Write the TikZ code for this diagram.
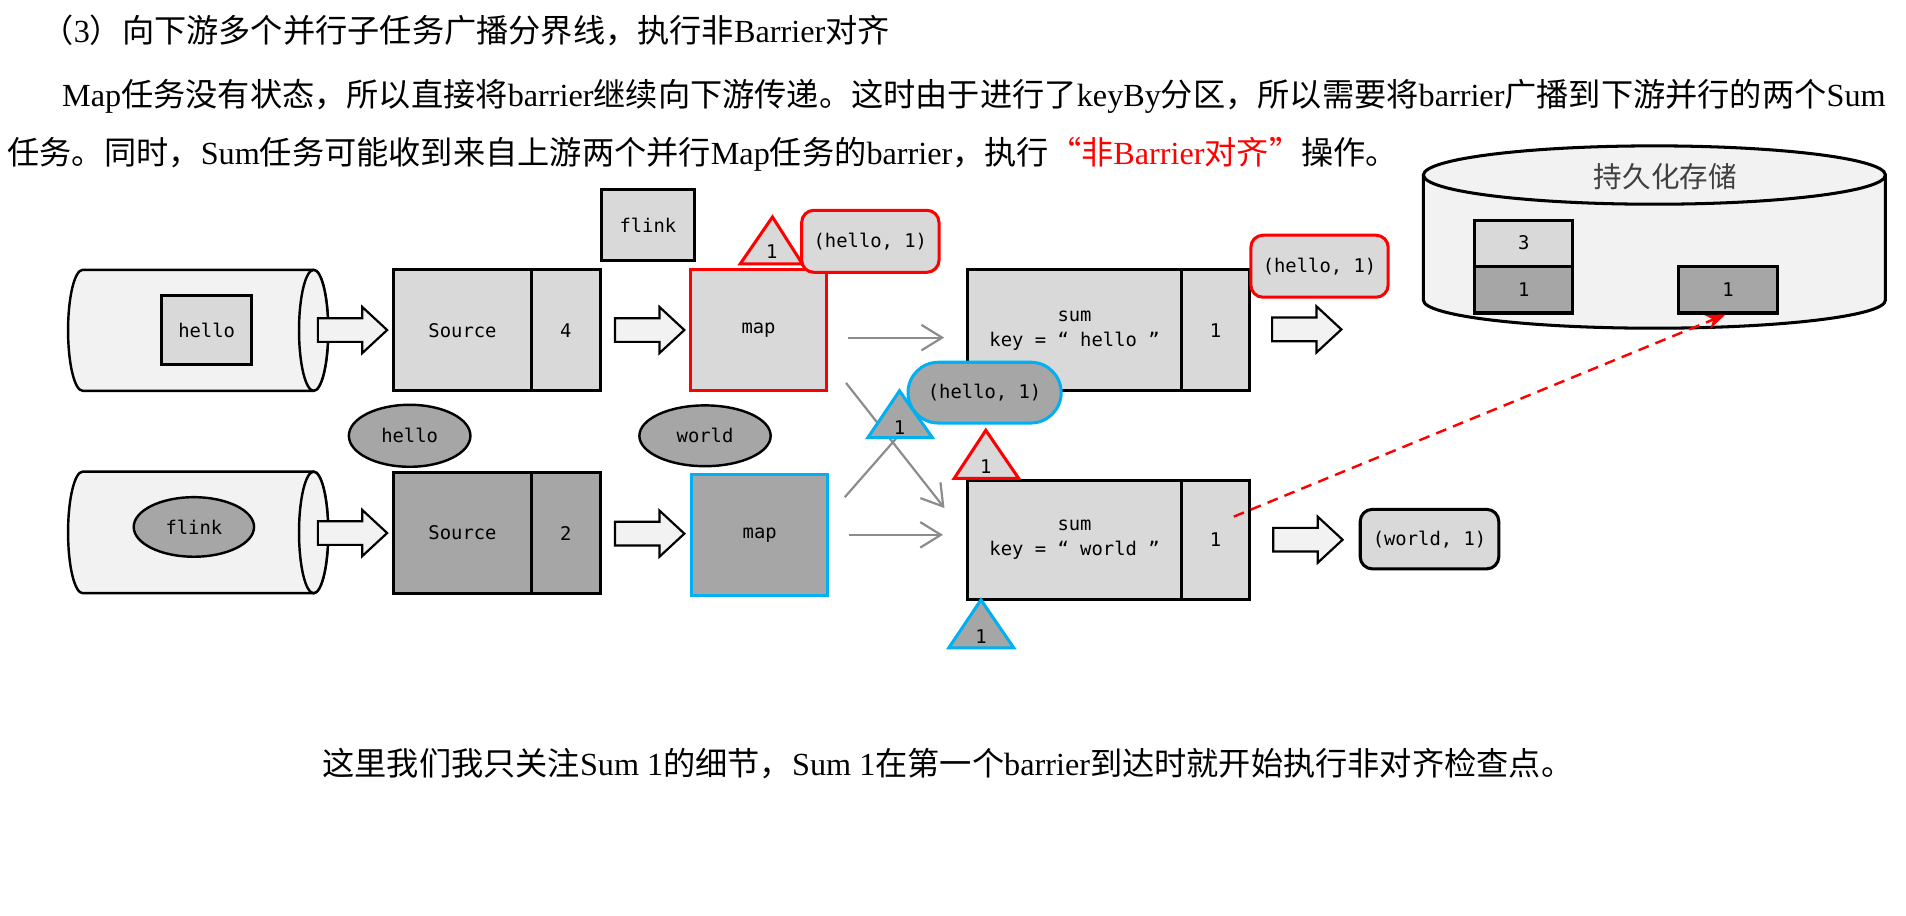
\documentclass[tikz,border=0pt]{standalone}
\usepackage{fontspec}
\setmainfont{Liberation Serif}
\newfontfamily\cjk{Noto Sans CJK SC}
\newfontfamily\codefont{DejaVu Sans Mono}
\usetikzlibrary{shapes.geometric,arrows.meta}

\definecolor{lgray}{HTML}{D9D9D9}
\definecolor{dgray}{HTML}{A6A6A6}
\definecolor{pale}{HTML}{F2F2F2}
\definecolor{cyanb}{HTML}{00B0F0}
\definecolor{arrgray}{HTML}{8C8C8C}
\definecolor{titlegray}{HTML}{404040}

\begin{document}
\begin{tikzpicture}[x=1pt, y=-1pt, >=stealth,
  box/.style={draw, line width=2.5pt, fill=lgray, inner sep=0pt, align=center,
    font=\codefont\fontsize{15.5}{20.5}\selectfont},
  tup/.style={box, rounded corners=10pt, minimum width=113pt, minimum height=51pt},
  oval/.style={ellipse, draw, line width=2pt, fill=dgray, inner sep=0pt,
    font=\codefont\fontsize{15.5}{18}\selectfont},
  fatarrow/.pic={\draw[line width=1.8pt, fill=pale, line join=miter]
    (-28.5,-9.75) -- (8,-9.75) -- (8,-19) -- (28.5,0) -- (8,19) -- (8,9.75) -- (-28.5,9.75) -- cycle;},
  cyl/.style={draw, line width=2pt, fill=pale},
  tri/.style={line width=2.5pt, line join=miter},
  num/.style={inner sep=0pt, font=\codefont\fontsize{15.5}{18}\selectfont},
  garrow/.style={draw=arrgray, line width=1.8pt, -{Straight Barb[length=17pt, width=21pt]}},
  body/.style={anchor=base west, inner sep=0pt, font=\fontsize{26.5}{30}\selectfont}
]
  \useasboundingbox (0,0) rectangle (1568,753);

  % --- 1. 本文 ---
  \node[body] (hd) at (34,35) {{\cjk （}3{\cjk ）向下游多个并行子任务广播分界线，执行非}Barrier{\cjk 对齐}};
  \node[body] (p1) at (51,88) {Map{\cjk 任务没有状态，所以直接将}barrier{\cjk 继续向下游传递。这时由于进行了}keyBy{\cjk 分区，所以需要将}barrier{\cjk 广播到下游并行的两个}Sum};
  \node[body] (p2) at (6,135) {{\cjk 任务。同时，}Sum{\cjk 任务可能收到来自上游两个并行}Map{\cjk 任务的}barrier{\cjk ，执行}\textcolor{red}{{\cjk “非}Barrier{\cjk 对齐”}}{\cjk 操作。}};
  \node[body] (note) at (265,638) {{\cjk 这里我们我只关注}Sum 1{\cjk 的细节，}Sum 1{\cjk 在第一个}barrier{\cjk 到达时就开始执行非对齐检查点。}};

  % --- 2. データソース (円柱) ---
  \draw[cyl] (68,222) -- (258,222) arc(90:-90:12pt and 49.75pt) -- (68,321.5) arc(270:90:12pt and 49.75pt) -- cycle;
  \draw[cyl] (258,271.75) ellipse (12pt and 49.75pt);
  \draw[cyl] (68,388) -- (258,388) arc(90:-90:12pt and 50pt) -- (68,488) arc(270:90:12pt and 50pt) -- cycle;
  \draw[cyl] (258,438) ellipse (12pt and 50pt);
  \node[box, minimum width=74pt, minimum height=57pt] (w1) at (170,271.5) {hello};
  \node[oval, minimum width=99pt, minimum height=49pt] (w2) at (159.5,433.5) {flink};

  % --- 3. Source と map ---
  \pic (fa1) at (290,271.5) {fatarrow};
  \pic (fa4) at (290,438.5) {fatarrow};
  \node[box, minimum width=113pt, minimum height=99.5pt] (src1) at (380.5,271.75) {Source};
  \node[box, minimum width=57pt, minimum height=99.5pt] (src1v) at (465.5,271.75) {4};
  \node[box, fill=dgray, minimum width=113pt, minimum height=99pt] (src2) at (380.5,438.5) {Source};
  \node[box, fill=dgray, minimum width=57pt, minimum height=99pt] (src2v) at (465.5,438.5) {2};
  \node[oval, minimum width=100pt, minimum height=51pt] (w3) at (337,358.5) {hello};
  \node[box, minimum width=76pt, minimum height=58pt] (w4) at (533,185) {flink};
  \node[oval, minimum width=108pt, minimum height=50pt] (w5) at (580,358.5) {world};
  \pic (fa2) at (534.5,271.5) {fatarrow};
  \pic (fa5) at (534.5,439) {fatarrow};
  \node[box, draw=red, minimum width=112pt, minimum height=99.5pt] (map1) at (624,271.75) {map};
  \node[box, draw=cyanb, fill=dgray, minimum width=112pt, minimum height=100pt] (map2) at (625,440) {map};

  % 分界线 (map1 の上)
  \draw[tri, draw=red, fill=lgray] (609,217) -- (635.5,178.5) -- (660,217) -- cycle;
  \node[num] (b1) at (635,207) {1};
  \node[tup, draw=red] (rp1) at (716,198.5) {(hello, 1)};

  % --- 4. sum ---
  \node[box, minimum width=176pt, minimum height=99.5pt] (sum1) at (884,271.75) {sum\\key = “ hello ”};
  \node[box, minimum width=56pt, minimum height=99.5pt] (sum1v) at (1000,271.75) {1};
  \node[box, minimum width=176pt, minimum height=98.5pt] (sum2) at (884,444.25) {sum\\key = “ world ”};
  \node[box, minimum width=56pt, minimum height=98.5pt] (sum2v) at (1000,444.25) {1};

  % map から sum への矢印
  \coordinate (xa) at (696,315);
  \coordinate (xb) at (777,418);
  \coordinate (xc) at (695,409);
  \coordinate (xd) at (737,361);
  \draw[garrow, shorten <=16pt, shorten >=18pt] ([yshift=-6pt]map1.east) -- ([yshift=-6pt]sum1.west);
  \draw[garrow, shorten <=16pt, shorten >=19pt] (map2.east) -- (sum2.west |- map2.east);
  \draw[garrow] (xa) -- (xb);
  \draw[draw=arrgray, line width=1.8pt] (xc) -- (xd);

  \node[tup, draw=cyanb, fill=dgray, rounded corners=25pt, minimum width=126pt, minimum height=50pt] (bp1) at (810,323) {(hello, 1)};
  \draw[tri, draw=cyanb, fill=dgray] (714,360) -- (740,321.5) -- (767,360) -- cycle;
  \node[num] (b2) at (740,352) {1};
  \draw[tri, draw=red, fill=lgray] (785,393.5) -- (811,354) -- (838,393.5) -- cycle;
  \node[num] (b3) at (811,384) {1};
  \draw[tri, draw=cyanb, fill=dgray] (780.5,533) -- (807,493.5) -- (834,533) -- cycle;
  \node[num] (b4) at (807,524) {1};

  \pic (fa3) at (1075,271) {fatarrow};
  \pic (fa6) at (1076,444) {fatarrow};
  \node[tup, draw=red] (rp2) at (1085.5,219) {(hello, 1)};
  \node[tup, minimum width=114pt, minimum height=49pt] (rp3) at (1176,443.5) {(world, 1)};

  % --- 5. 持久化存储 ---
  \draw[cyl, line width=2.5pt] (1171,144) -- (1171,247) arc(180:360:190pt and 23pt) -- (1551,144) -- cycle;
  \draw[cyl, line width=2.5pt] (1361,144) ellipse (190pt and 24pt);
  \node[inner sep=0pt, text=titlegray, font=\cjk\fontsize{23.5}{26}\selectfont] (ttl) at (1370,145.5) {持久化存储};
  \node[box, minimum width=81pt, minimum height=38pt] (st1) at (1253.5,200) {3};
  \node[box, fill=dgray, minimum width=81pt, minimum height=38pt] (st2) at (1253.5,238.5) {1};
  \node[box, fill=dgray, minimum width=81pt, minimum height=38pt] (st3) at (1421.5,238.5) {1};

  % チェックポイント (赤破線)
  \coordinate (ckp) at (1015,425);
  \draw[red, line width=2pt, dash pattern=on 9pt off 6pt, -{Stealth[length=16pt, width=12pt]}] (ckp) -- ([xshift=-2pt]st3.south);

\end{tikzpicture}
\end{document}
